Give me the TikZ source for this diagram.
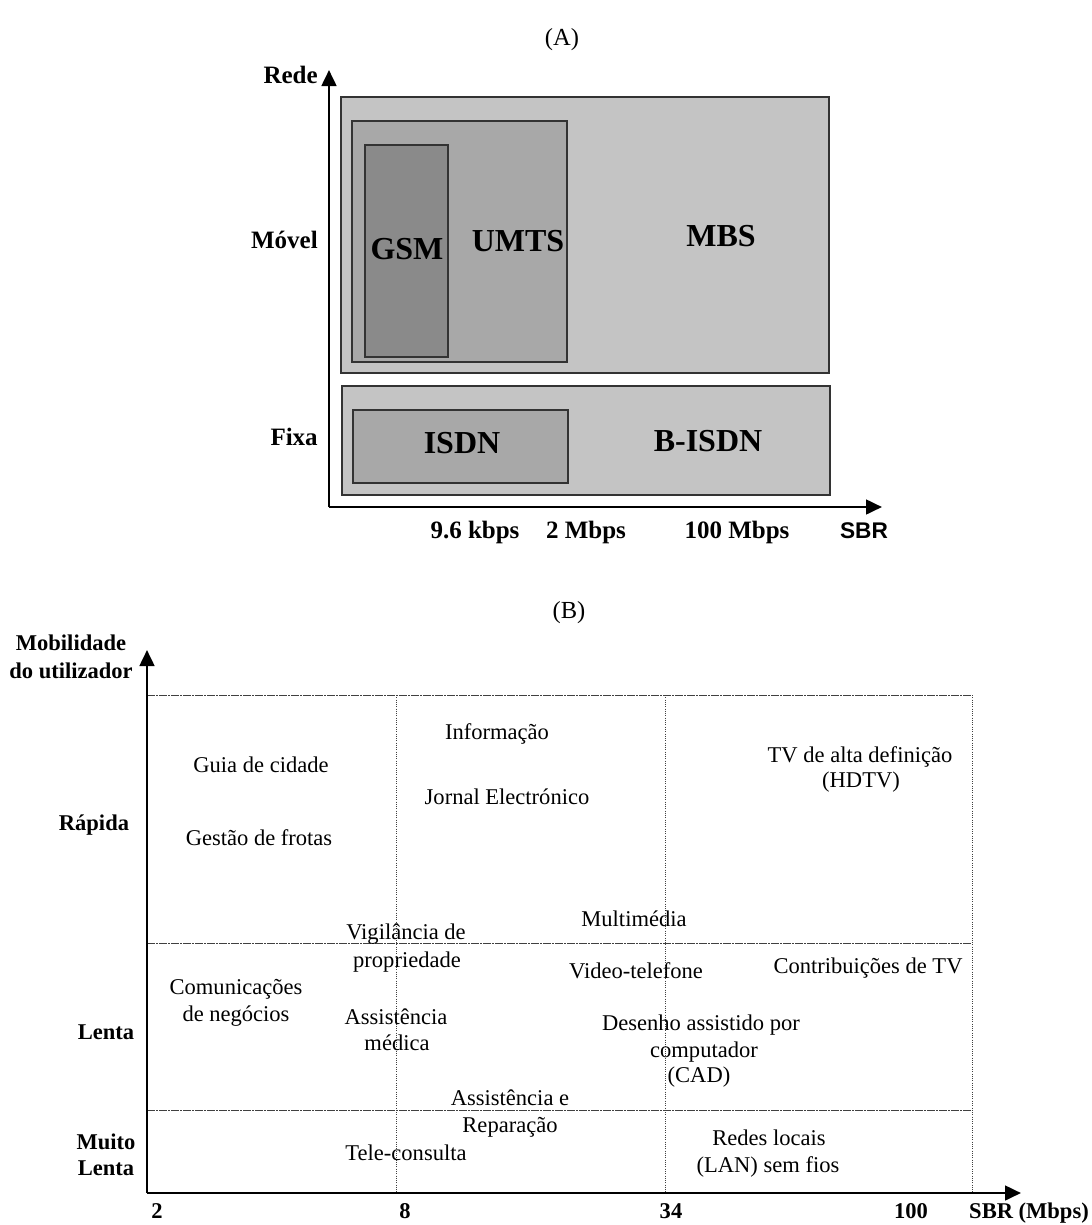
\documentclass[tikz,border=0pt]{standalone}
\usepackage{fontspec}
\setmainfont{Liberation Serif}
\newfontfamily\axsans{Liberation Sans}
\usetikzlibrary{arrows.meta}

\begin{document}
\begin{tikzpicture}[x=0.75pt,y=-0.75pt,
  axisline/.style={line width=2pt,draw=black,-{Triangle[length=12pt,width=11pt]}},
  zone/.style={draw=black!80,line width=1.1pt},
  grid/.style={line width=0.7pt,draw=black!75,dash pattern=on 6pt off 1pt on 1pt off 1pt},
  gridv/.style={line width=0.7pt,draw=black!75,densely dotted},
  lblA/.style={font=\fontsize{18.75}{22}\selectfont\bfseries,inner sep=0pt,anchor=base},
  big/.style={font=\fontsize{24}{28}\selectfont\bfseries,inner sep=0pt,anchor=base},
  title/.style={font=\fontsize{18.4}{22}\selectfont,inner sep=0pt,anchor=base},
  lblB/.style={font=\fontsize{16.9}{20}\selectfont\bfseries,inner sep=0pt,anchor=base},
  txt/.style={font=\fontsize{16.9}{20}\selectfont,inner sep=0pt,anchor=base}]

\useasboundingbox (0,0) rectangle (1092,1225);

% ---------------- (A) networks by rate and mobility ----------------
\node[title] (titleA) at (562,45) {(A)};

% mobile networks
\fill[black!23] (341,97) rectangle (829,373);
\draw[zone] (341,97) rectangle (829,373);
\fill[black!34] (352,121) rectangle (567,362);
\draw[zone] (352,121) rectangle (567,362);
\fill[black!46] (365,145) rectangle (448,357);
\draw[zone] (365,145) rectangle (448,357);

% fixed networks
\fill[black!23] (342,386) rectangle (830,495);
\draw[zone] (342,386) rectangle (830,495);
\fill[black!34] (353,410) rectangle (568,483);
\draw[zone] (353,410) rectangle (568,483);

\node[big] (gsm) at (407,259) {GSM};
\node[big] (umts) at (518,251) {UMTS};
\node[big] (mbs) at (721,246) {MBS};
\node[big] (isdn) at (462,453) {ISDN};
\node[big] (bisdn) at (708,451) {B-ISDN};

% axes
\coordinate (aO) at (329,507);
\coordinate (aY) at (329,70);
\coordinate (aX) at (882,507);
\draw[axisline] (aO) -- (aY);
\draw[axisline] (aO) -- (aX);

\node[lblA,anchor=base east] (rede) at (318,83) {Rede};
\node[lblA,anchor=base east] (movel) at (318,248) {Móvel};
\node[lblA,anchor=base east] (fixa) at (318,445) {Fixa};

\node[lblA] (r96) at (475,538) {9.6 kbps};
\node[lblA] (r2) at (586,538) {2 Mbps};
\node[lblA] (r100) at (737,538) {100 Mbps};
\node[lblA,font=\axsans\fontsize{17}{20}\selectfont\bfseries] (sbrA) at (864,538) {SBR};

% ---------------- (B) services by rate and mobility ----------------
\node[title] (titleB) at (569,618) {(B)};

% grid
\draw[grid] (147,695) -- (972,695);
\draw[grid] (147,943) -- (972,943);
\draw[grid] (147,1110) -- (972,1110);
\draw[gridv] (396,695) -- (396,1193);
\draw[gridv] (665,695) -- (665,1193);
\draw[gridv] (972,695) -- (972,1193);

% axes
\coordinate (bO) at (147,1193);
\coordinate (bY) at (147,650);
\coordinate (bX) at (1021,1193);
\draw[axisline] (bO) -- (bY);
\draw[axisline] (bO) -- (bX);

\node[lblB] (mob1) at (71,650) {Mobilidade};
\node[lblB] (mob2) at (71,678) {do utilizador};
\node[lblB] (rapida) at (94,830) {Rápida};
\node[lblB] (lenta) at (106,1039) {Lenta};
\node[lblB] (muito1) at (106,1149) {Muito};
\node[lblB] (muito2) at (106,1175) {Lenta};

\node[lblB] (x2) at (157,1218) {2};
\node[lblB] (x8) at (405,1218) {8};
\node[lblB] (x34) at (671,1218) {34};
\node[lblB] (x100) at (911,1218) {100};
\node[lblB] (sbrB) at (1029,1218) {SBR (Mbps)};

% services
\node[txt] (info) at (497,739) {Informação};
\node[txt] (guia) at (261,772) {Guia de cidade};
\node[txt] (jornal) at (507,804) {Jornal Electrónico};
\node[txt] (gestao) at (259,845) {Gestão de frotas};
\node[txt] (hdtv1) at (860,762) {TV de alta definição};
\node[txt] (hdtv2) at (861,787) {(HDTV)};
\node[txt] (multi) at (634,926) {Multimédia};
\node[txt] (vig1) at (406,939) {Vigilância de};
\node[txt] (vig2) at (407,967) {propriedade};
\node[txt] (video) at (636,978) {Video-telefone};
\node[txt] (contrib) at (868,973) {Contribuições de TV};
\node[txt] (com1) at (236,994) {Comunicações};
\node[txt] (com2) at (236,1021) {de negócios};
\node[txt] (med1) at (396,1024) {Assistência};
\node[txt] (med2) at (397,1050) {médica};
\node[txt] (cad1) at (701,1030) {Desenho assistido por};
\node[txt] (cad2) at (704,1057) {computador};
\node[txt] (cad3) at (699,1082) {(CAD)};
\node[txt] (rep1) at (510,1105) {Assistência e};
\node[txt] (rep2) at (510,1132) {Reparação};
\node[txt] (lan1) at (769,1145) {Redes locais};
\node[txt] (lan2) at (768,1172) {(LAN) sem fios};
\node[txt] (tele) at (406,1160) {Tele-consulta};
\end{tikzpicture}
\end{document}
